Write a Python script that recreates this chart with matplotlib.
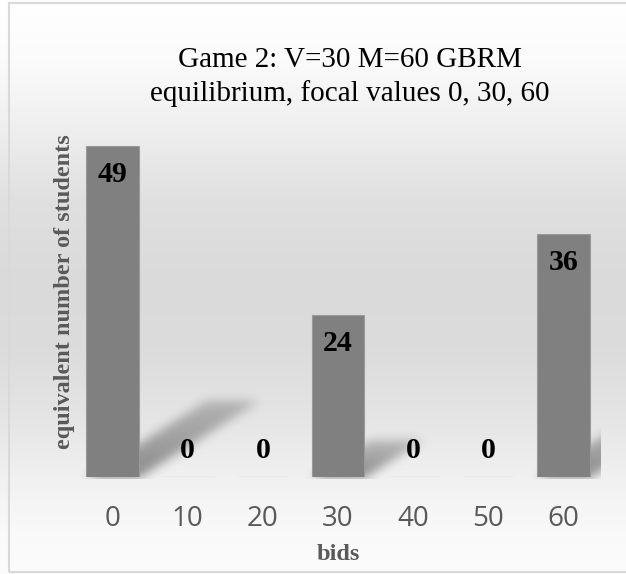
import numpy as np
import matplotlib
matplotlib.use("Agg")
import matplotlib.pyplot as plt
from matplotlib.patches import Rectangle

# ---- data ----
categories = ["0", "10", "20", "30", "40", "50", "60"]
values = [49, 0, 0, 24, 0, 0, 36]
title = "Game 2: V=30 M=60 GBRM\nequilibrium, focal values 0, 30, 60"
xlabel = "bids"
ylabel = "equivalent number of students"

W, H = 626, 574
fig = plt.figure(figsize=(W / 100, H / 100), dpi=100)

# ---- background gradient ----
stops_y = [0, 60, 130, 200, 280, 350, 420, 480, 530, 574]
stops_g = [255, 251, 238, 224, 218, 220, 229, 241, 249, 252]
g = np.interp(np.arange(H), stops_y, stops_g) / 255.0
bg = np.repeat(g[:, None], W, axis=1)
bg_rgb = np.dstack([bg, bg, bg])
fig.figimage(bg_rgb, xo=0, yo=0, origin="upper", zorder=-3)

# ---- axes ----
ax = fig.add_axes([75 / W, (H - 477) / H, 526 / W, 337.5 / H])
ax.set_xlim(-0.5, len(categories) - 0.5)
ax.set_ylim(0, 50)
ax.patch.set_alpha(0)
for s in ax.spines.values():
    s.set_visible(False)
ax.set_yticks([])
x = np.arange(len(categories))
ax.set_xticks(x)
ax.set_xticklabels(categories, fontfamily="Open Sans", fontsize=20, color="#595959")
ax.tick_params(axis="x", length=0, pad=20)

bars = ax.bar(x, values, width=0.705, color="#808080", edgecolor="#9a9a9a",
              linewidth=0.8, zorder=3)

# ---- shadows (derived from bars) ----
yy, xx = np.mgrid[0:H, 0:W].astype(float)
alpha = np.zeros((H, W))
half = 0.705 / 2
for i, v in enumerate(values):
    if v <= 0:
        continue
    (px0, pb), (px1, pt) = ax.transData.transform([(i - half, 0), (i + half, v)])
    b = H - pb
    t = H - pt
    h = b - t
    dx, dy = 0.36 * h, 0.23 * h
    s = (b - yy) / dy
    inside = (s >= 0) & (s <= 1)
    xl = px0 + s * dx
    xr = px1 + s * dx
    mask = inside & (xx >= xl) & (xx <= xr)
    a = np.where(mask, 0.42 * (1 - 0.5 * np.clip(s, 0, 1)), 0.0)
    alpha = np.maximum(alpha, a)

def blur(arr, sigma):
    r = int(3 * sigma)
    k = np.exp(-0.5 * (np.arange(-r, r + 1) / sigma) ** 2)
    k /= k.sum()
    out = np.apply_along_axis(lambda m: np.convolve(m, k, mode="same"), 0, arr)
    out = np.apply_along_axis(lambda m: np.convolve(m, k, mode="same"), 1, out)
    return out

alpha = blur(alpha, 5)
ax_right = ax.transAxes.transform((1, 0))[0]
base_pix = H - ax.transData.transform((0, 0))[1]
alpha[:, int(ax_right):] = 0
alpha[int(base_pix) + 2:, :] = 0
sh = np.zeros((H, W, 4))
sh[..., 3] = alpha
fig.figimage(sh, xo=0, yo=0, origin="upper", zorder=-2)

# ---- value labels ----
for i, v in enumerate(values):
    off = -20.5 if v > 0 else 19
    ax.annotate(str(v), (i, v), xytext=(0, off), textcoords="offset points",
                ha="center", va="center", fontfamily="Liberation Serif",
                fontweight="bold", fontsize=21.5, color="black", zorder=5)

# ---- texts ----
fig.text(350 / W, 1 - 77 / H, title, ha="center", va="center",
         fontfamily="Liberation Serif", fontsize=21, color="black",
         linespacing=1.3)
fig.text(65 / W, 1 - 292 / H, ylabel, ha="center", va="center", rotation=90,
         fontfamily="Liberation Serif", fontweight="bold", fontsize=17.5,
         color="#595959")
fig.text(338 / W, 1 - 555 / H, xlabel, ha="center", va="center",
         fontfamily="Liberation Serif", fontweight="bold", fontsize=17.5,
         color="#595959")

# ---- border ----
fig.patches.append(Rectangle((9 / W, 1 - 572 / H), (W + 10) / W, 569 / H,
                             transform=fig.transFigure, fill=False,
                             edgecolor="#d9d9d9", linewidth=1.5))

fig.savefig("out.png", dpi=100)
